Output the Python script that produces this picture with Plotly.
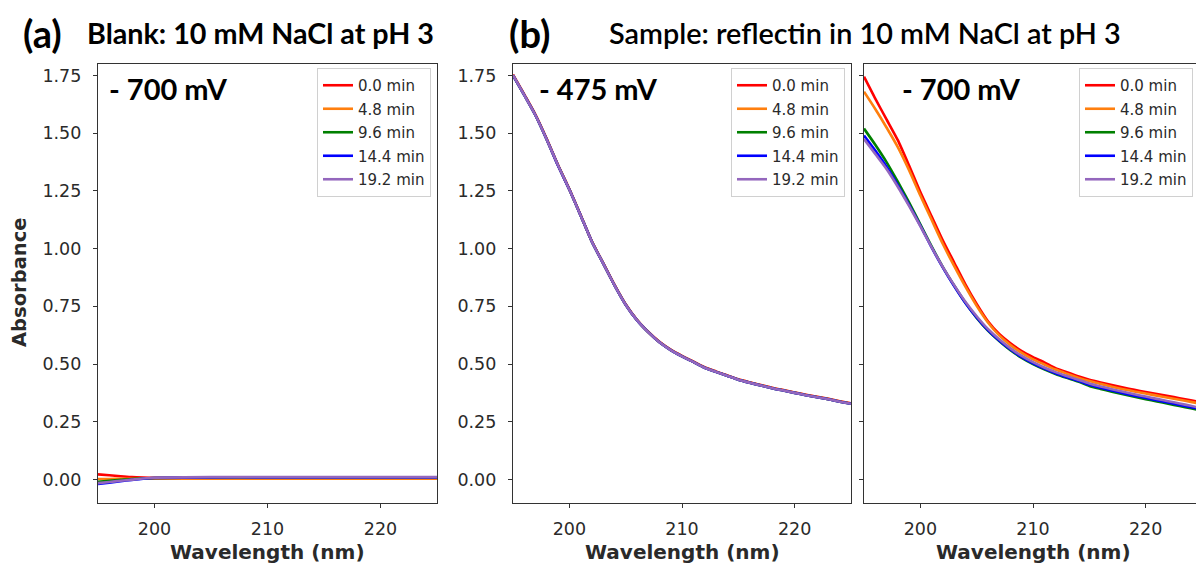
import plotly.graph_objects as go

# ---- data -------------------------------------------------------------
times = ["0.0 min", "4.8 min", "9.6 min", "14.4 min", "19.2 min"]
colors = ["#ff0000", "#ff7f0e", "#008000", "#0000ff", "#9467bd"]

# (a) blank, -700 mV
wl_a = [195, 196, 197, 198, 199, 200, 205, 210, 215, 220, 225]
blank_0 = [0.022, 0.018, 0.014, 0.010, 0.008, 0.007, 0.006, 0.006, 0.006, 0.006, 0.006]
blank_48 = [0.002, 0.002, 0.003, 0.003, 0.003, 0.003, 0.003, 0.003, 0.003, 0.003, 0.003]
blank_96 = [-0.010, -0.006, -0.002, 0.002, 0.004, 0.006, 0.008, 0.008, 0.008, 0.008, 0.008]
blank_144 = [-0.020, -0.014, -0.008, -0.002, 0.003, 0.006, 0.009, 0.009, 0.009, 0.009, 0.009]
blank_192 = [-0.016, -0.011, -0.006, -0.001, 0.004, 0.007, 0.010, 0.010, 0.010, 0.010, 0.010]

# (b) reflectin, -475 mV and -700 mV
wl = list(range(195, 226))
s475_0 = [1.754, 1.668, 1.580, 1.475, 1.362, 1.258, 1.146, 1.032, 0.938, 0.844, 0.759,
          0.692, 0.640, 0.596, 0.562, 0.535, 0.511, 0.486, 0.468, 0.451, 0.434, 0.421,
          0.409, 0.397, 0.387, 0.377, 0.367, 0.358, 0.349, 0.339, 0.330]
s475_48 = [1.752, 1.666, 1.578, 1.473, 1.360, 1.257, 1.145, 1.031, 0.937, 0.843, 0.758,
           0.691, 0.639, 0.595, 0.561, 0.534, 0.510, 0.485, 0.467, 0.450, 0.433, 0.420,
           0.408, 0.396, 0.386, 0.376, 0.366, 0.357, 0.348, 0.338, 0.329]
s475_96 = [1.751, 1.665, 1.577, 1.472, 1.360, 1.256, 1.144, 1.030, 0.936, 0.842, 0.757,
           0.690, 0.638, 0.594, 0.560, 0.533, 0.509, 0.484, 0.466, 0.449, 0.432, 0.419,
           0.407, 0.395, 0.385, 0.375, 0.365, 0.356, 0.347, 0.337, 0.328]
s475_144 = [1.751, 1.665, 1.577, 1.472, 1.359, 1.256, 1.144, 1.030, 0.936, 0.842, 0.757,
            0.690, 0.638, 0.594, 0.560, 0.533, 0.509, 0.484, 0.466, 0.449, 0.432, 0.419,
            0.407, 0.395, 0.385, 0.375, 0.365, 0.356, 0.347, 0.337, 0.328]
s475_192 = [1.752, 1.665, 1.577, 1.472, 1.360, 1.256, 1.144, 1.030, 0.936, 0.842, 0.757,
            0.690, 0.638, 0.594, 0.560, 0.533, 0.509, 0.484, 0.466, 0.449, 0.432, 0.419,
            0.407, 0.395, 0.385, 0.375, 0.365, 0.356, 0.347, 0.337, 0.328]

s700_0 = [1.745, 1.650, 1.560, 1.470, 1.360, 1.245, 1.140, 1.035, 0.940, 0.845, 0.760,
          0.685, 0.630, 0.590, 0.556, 0.530, 0.507, 0.482, 0.465, 0.447, 0.432, 0.420,
          0.409, 0.398, 0.388, 0.379, 0.370, 0.361, 0.352, 0.343, 0.334]
s700_48 = [1.680, 1.605, 1.525, 1.440, 1.340, 1.230, 1.125, 1.020, 0.925, 0.835, 0.752,
           0.680, 0.624, 0.582, 0.548, 0.520, 0.498, 0.476, 0.458, 0.441, 0.426, 0.414,
           0.402, 0.391, 0.381, 0.372, 0.363, 0.354, 0.345, 0.336, 0.327]
s700_96 = [1.520, 1.450, 1.375, 1.290, 1.200, 1.105, 1.010, 0.920, 0.840, 0.765, 0.700,
           0.645, 0.600, 0.560, 0.527, 0.500, 0.477, 0.457, 0.440, 0.424, 0.405, 0.392,
           0.380, 0.369, 0.358, 0.348, 0.338, 0.328, 0.318, 0.308, 0.298]
s700_144 = [1.490, 1.425, 1.355, 1.275, 1.190, 1.100, 1.005, 0.918, 0.838, 0.765, 0.702,
            0.647, 0.602, 0.563, 0.530, 0.503, 0.480, 0.460, 0.443, 0.427, 0.410, 0.397,
            0.385, 0.374, 0.363, 0.353, 0.343, 0.333, 0.323, 0.313, 0.303]
s700_192 = [1.475, 1.410, 1.345, 1.268, 1.185, 1.098, 1.006, 0.920, 0.842, 0.770, 0.707,
            0.652, 0.607, 0.568, 0.535, 0.508, 0.485, 0.465, 0.448, 0.432, 0.416, 0.403,
            0.391, 0.380, 0.369, 0.359, 0.349, 0.339, 0.329, 0.319, 0.308]

x_ticks = [200, 210, 220]
y_ticks = [0.0, 0.25, 0.5, 0.75, 1.0, 1.25, 1.5, 1.75]

panels = [
    ("x", "y", "legend", wl_a, [blank_0, blank_48, blank_96, blank_144, blank_192]),
    ("x2", "y2", "legend2", wl, [s475_0, s475_48, s475_96, s475_144, s475_192]),
    ("x3", "y3", "legend3", wl, [s700_0, s700_48, s700_96, s700_144, s700_192]),
]

# ---- figure -----------------------------------------------------------
W, H = 1196, 564
fig = go.Figure()

for xa, ya, lg, xs, series in panels:
    for i, (name, col, ys) in enumerate(zip(times, colors, series)):
        fig.add_trace(go.Scatter(
            x=xs, y=ys, mode="lines", name=name, xaxis=xa, yaxis=ya,
            line=dict(color=col, width=2.6, shape="spline", smoothing=0.6),
            legend=lg, legendgroup=lg + str(i), showlegend=True,
        ))

def px(v):
    return v / W

def py(v):
    return 1 - v / H

axis_common = dict(
    showline=True, linecolor="#333333", linewidth=1.3, mirror=True,
    ticks="outside", ticklen=4, tickwidth=1.2, tickcolor="#333333",
    showgrid=False, zeroline=False,
    tickfont=dict(family="DejaVu Sans", size=17.5, color="#2a2a2a"),
)

ydom = [py(502.5), py(64)]
x_domains = [[px(98), px(437)], [px(513), px(851)], [px(864), 1.0]]
x_ranges = [[195, 225], [195, 225], [195, 195 + (W - 864) / (338 / 30)]]

layout = dict(
    width=W, height=H,
    margin=dict(l=0, r=0, t=0, b=0),
    paper_bgcolor="white", plot_bgcolor="white",
)
for k, (dom, rng) in enumerate(zip(x_domains, x_ranges)):
    sfx = "" if k == 0 else str(k + 1)
    layout["xaxis" + sfx] = dict(
        axis_common, domain=dom, range=rng, tickvals=x_ticks,
        anchor="y" + sfx, ticklabelstandoff=6,
    )
    yax = dict(
        axis_common, domain=ydom, range=[-0.1, 1.8], tickvals=y_ticks,
        tickformat=".2f", anchor="x" + sfx, ticklabelstandoff=8,
    )
    if k == 2:
        yax["mirror"] = False
        yax["showticklabels"] = False
    layout["yaxis" + sfx] = yax

legend_common = dict(
    xanchor="right", yanchor="top",
    bgcolor="rgba(255,255,255,0.85)", bordercolor="#d0d0d0", borderwidth=1,
    font=dict(family="DejaVu Sans", size=15, color="#2a2a2a"),
    tracegroupgap=1, traceorder="grouped", itemwidth=30,
)
legend_right = [431, 845, 1193]
for k, r in enumerate(legend_right):
    key = "legend" if k == 0 else "legend" + str(k + 1)
    layout[key] = dict(legend_common, x=px(r), y=py(68))

fig.update_layout(**layout)

title_font = "Lato"
ann = []
# panel headings
ann.append(dict(text="<b>(a)</b>", x=px(21), y=py(33), xanchor="left", yanchor="middle",
                font=dict(family=title_font, size=38, color="black")))
ann.append(dict(text="<b>Blank: 10 mM NaCl at pH 3</b>", x=px(85), y=py(33), xanchor="left",
                yanchor="middle", font=dict(family=title_font, size=28.7, color="black")))
ann.append(dict(text="<b>(b)</b>", x=px(507), y=py(33), xanchor="left", yanchor="middle",
                font=dict(family=title_font, size=38, color="black")))
ann.append(dict(text="Sample: reflectin in 10 mM NaCl at pH 3", x=px(607), y=py(33),
                xanchor="left", yanchor="middle",
                font=dict(family=title_font, size=28.8, color="black", weight=600)))
# potentials inside panels
for xl, label in [(107, "- 700 mV"), (537, "- 475 mV"), (900, "- 700 mV")]:
    ann.append(dict(text="<b>" + label + "</b>", x=px(xl), y=py(89), xanchor="left",
                    yanchor="middle", font=dict(family=title_font, size=29, color="black")))
# axis titles
ann.append(dict(text="<b>Absorbance</b>", x=px(19), y=py(283), textangle=-90,
                xanchor="center", yanchor="middle",
                font=dict(family="DejaVu Sans", size=19.5, color="#2a2a2a")))
for cx in [(98 + 437) / 2, (513 + 851) / 2, (864 + 1202) / 2]:
    ann.append(dict(text="<b>Wavelength (nm)</b>", x=px(cx), y=py(552),
                    xanchor="center", yanchor="middle",
                    font=dict(family="DejaVu Sans", size=20, color="#2a2a2a")))
for a in ann:
    a.update(xref="paper", yref="paper", showarrow=False)
fig.update_layout(annotations=ann)

fig.write_html("out.html")
